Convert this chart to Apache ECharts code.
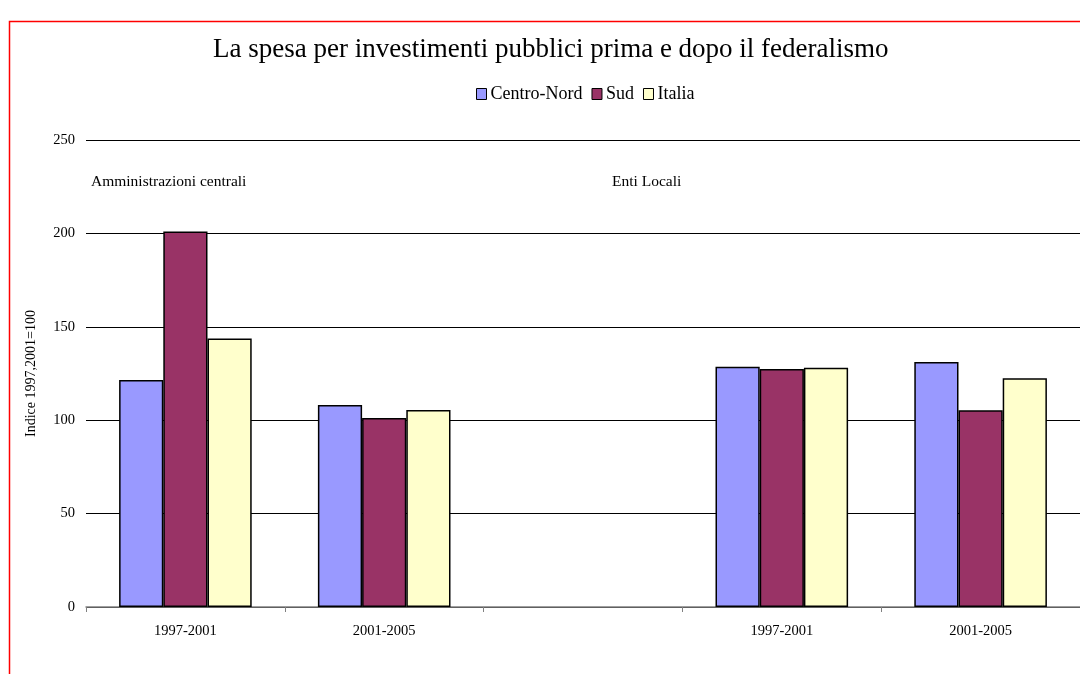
<!DOCTYPE html>
<html><head><meta charset="utf-8">
<script src="https://cdn.jsdelivr.net/npm/echarts@6/dist/echarts.min.js"></script>
<style>html,body{margin:0;padding:0;background:#fff}#c{width:1080px;height:674px}</style>
</head><body><div id="c"></div>
<script>
const categories = ['1997-2001', '2001-2005', '', '1997-2001', '2001-2005'];
const centroNord = [121.5, 108.1, null, 128.6, 131.2];
const sud = [201.0, 101.2, null, 127.4, 105.3];
const italia = [143.8, 105.5, null, 128.1, 122.4];
const yTicks = { min: 0, max: 250, interval: 50 };
const panelLabels = ['Amministrazioni centrali', 'Enti Locali'];

const FONT = '"Liberation Serif", "Times New Roman", serif';
const chart = echarts.init(document.getElementById('c'));
const mk = (name, data, color) => ({
  name, type: 'bar', data,
  barGap: 0, barCategoryGap: '33.3%',
  itemStyle: { color, borderColor: '#000', borderWidth: 1.5 }
});
chart.setOption({
  animation: false,
  textStyle: { fontFamily: FONT, color: '#000' },
  title: {
    text: 'La spesa per investimenti pubblici prima e dopo il federalismo',
    left: 208, top: 31,
    textStyle: { fontFamily: FONT, fontSize: 27, fontWeight: 'normal', color: '#000' }
  },
  legend: {
    top: 80, left: 471, itemWidth: 10, itemHeight: 11, itemGap: 9,
    icon: 'rect',
    textStyle: { fontFamily: FONT, fontSize: 18, color: '#000', padding: [0, 0, 0, -1] },
    itemStyle: { borderColor: '#000', borderWidth: 1 }
  },
  grid: { left: 86, top: 140, width: 997, height: 467, containLabel: false },
  xAxis: {
    type: 'category', data: categories,
    axisLine: { lineStyle: { color: '#808080', width: 1.5 } },
    axisTick: { show: true, length: 5, interval: 0, lineStyle: { color: '#808080' } },
    axisLabel: { interval: 0, margin: 17, fontSize: 14.5, color: '#000', fontFamily: FONT }
  },
  yAxis: {
    type: 'value', min: yTicks.min, max: yTicks.max, interval: yTicks.interval,
    name: 'Indice 1997,2001=100', nameLocation: 'middle', nameRotate: 90, nameGap: 48,
    nameTextStyle: { fontSize: 14, color: '#000', fontFamily: FONT },
    axisLine: { show: false }, axisTick: { show: false },
    axisLabel: { margin: 11, fontSize: 14.5, color: '#000', fontFamily: FONT },
    splitLine: { lineStyle: { color: '#000', width: 1 } }
  },
  graphic: [
    { type: 'rect', shape: { x: 9.5, y: 21.5, width: 1200, height: 800 },
      style: { fill: 'none', stroke: '#ff0000', lineWidth: 1.5 }, silent: true },
    { type: 'text', left: 91, top: 174,
      style: { text: panelLabels[0], font: '15.5px ' + FONT, fill: '#000' } },
    { type: 'text', left: 612, top: 174,
      style: { text: panelLabels[1], font: '15.5px ' + FONT, fill: '#000' } }
  ],
  series: [
    mk('Centro-Nord', centroNord, '#9999FF'),
    mk('Sud', sud, '#993366'),
    mk('Italia', italia, '#FFFFCC')
  ]
});
</script></body></html>
